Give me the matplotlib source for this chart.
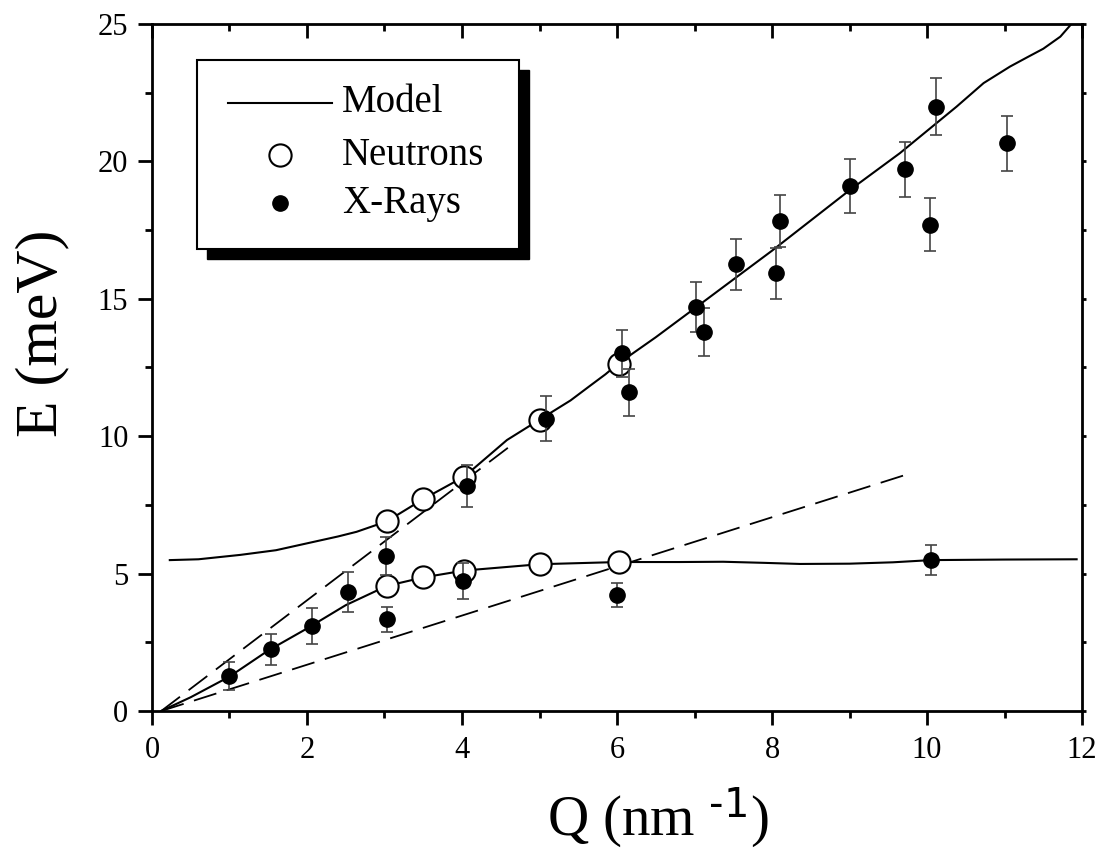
import matplotlib
matplotlib.use('Agg')
import matplotlib.pyplot as plt
from matplotlib.patches import Rectangle
from matplotlib.lines import Line2D

plt.rcParams['font.family'] = ['Liberation Serif', 'DejaVu Serif']
plt.rcParams['mathtext.default'] = 'regular'

# model curves (upper and lower branch)
model_hi_q = [0.23, 0.6, 1.14, 1.6, 2.0, 2.4, 2.64, 3.03, 3.5, 4.03, 4.58, 5.0, 5.4, 5.65,
              5.85, 6.02, 6.5, 7.02, 7.5, 8.0, 8.5, 9.0, 9.65, 10.38, 10.73, 11.07, 11.3,
              11.5, 11.72, 11.85]
model_hi_e = [5.49, 5.52, 5.68, 5.85, 6.10, 6.35, 6.52, 6.90, 7.71, 8.53, 9.86, 10.6, 11.3, 11.83,
              12.25, 12.65, 13.6, 14.69, 15.7, 16.75, 17.85, 18.95, 20.3, 21.99, 22.85, 23.45, 23.8,
              24.1, 24.54, 24.96]
model_lo_q = [0.12, 0.5, 1.0, 1.5, 2.0, 2.5, 3.03, 3.5, 4.03, 5.0, 6.02, 6.8, 7.37, 7.9, 8.36,
              9.0, 9.56, 10.05, 11.0, 11.93]
model_lo_e = [0.0, 0.5, 1.25, 2.2, 3.0, 3.85, 4.55, 4.86, 5.11, 5.34, 5.42, 5.42, 5.43, 5.39, 5.35,
              5.36, 5.41, 5.49, 5.51, 5.52]

# dashed lines
dash1_q = [0.12, 4.65]
dash1_e = [0.0, 9.7]
dash2_q = [0.12, 9.81]
dash2_e = [0.0, 8.67]

# neutrons
n_q = [3.03, 3.50, 4.03, 5.00, 6.02, 3.03, 3.50, 4.03, 5.00, 6.02]
n_e = [6.90, 7.71, 8.53, 10.6, 12.62, 4.55, 4.86, 5.11, 5.34, 5.42]

# x-rays
xr_q = [0.99, 1.54, 2.06, 2.53, 3.02, 3.03, 4.01, 4.06, 5.09, 6.00, 6.07, 6.15, 7.02, 7.12,
        7.54, 8.05, 8.10, 9.01, 9.72, 10.04, 10.05, 10.12, 11.03]
xr_e = [1.27, 2.24, 3.09, 4.32, 5.64, 3.34, 4.72, 8.19, 10.64, 4.22, 13.01, 11.59, 14.70, 13.80,
        16.25, 15.93, 17.83, 19.10, 19.72, 17.70, 5.49, 21.99, 20.66]
xr_err = [0.50, 0.56, 0.65, 0.73, 0.70, 0.46, 0.65, 0.76, 0.82, 0.42, 0.85, 0.84, 0.90, 0.88,
          0.92, 0.92, 0.96, 0.98, 1.00, 0.95, 0.55, 1.03, 1.01]

fig = plt.figure(figsize=(11.02, 8.48), dpi=100)
ax = fig.add_axes([0.1379, 0.1616, 0.844, 0.8101])

ax.plot(model_hi_q, model_hi_e, color='k', lw=1.5, zorder=2)
ax.plot(model_lo_q, model_lo_e, color='k', lw=1.5, zorder=2)
ax.plot(dash1_q, dash1_e, color='k', lw=1.3, dashes=(13, 6), zorder=2)
ax.plot(dash2_q, dash2_e, color='k', lw=1.3, dashes=(13, 6), zorder=2)

ax.plot(n_q, n_e, 'o', ms=16, mfc='white', mec='k', mew=1.5, ls='none', zorder=3)
ax.errorbar(xr_q, xr_e, yerr=xr_err, fmt='o', ms=11, color='k', ecolor='#444444',
            elinewidth=1.2, capsize=4, capthick=1.2, zorder=4)

ax.set_xlim(0, 12)
ax.set_ylim(0, 25)
ax.set_xticks([0, 2, 4, 6, 8, 10, 12])
ax.set_xticks([1, 3, 5, 7, 9, 11], minor=True)
ax.set_yticks([0, 5, 10, 15, 20, 25])
ax.set_yticks([2.5, 7.5, 12.5, 17.5, 22.5], minor=True)

for s in ax.spines.values():
    s.set_linewidth(2)
ax.tick_params(which='both', direction='out', width=2, labelsize=22)
ax.tick_params(axis='y', pad=7)
ax.tick_params(axis='x', pad=8)
ax.tick_params(which='major', length=10)
ax.tick_params(which='minor', length=5)

# mirrored ticks on top and right
top = ax.secondary_xaxis('top')
top.set_xticks([0, 2, 4, 6, 8, 10, 12])
top.set_xticks([1, 3, 5, 7, 9, 11], minor=True)
top.tick_params(which='both', direction='in', width=2, labeltop=False)
top.tick_params(which='major', length=10)
top.tick_params(which='minor', length=5)
right = ax.secondary_yaxis('right')
right.set_yticks([0, 5, 10, 15, 20, 25])
right.set_yticks([2.5, 7.5, 12.5, 17.5, 22.5], minor=True)
right.tick_params(which='both', direction='out', width=2, length=3, labelright=False)

ax.set_xlabel('Q (nm $^{\\text{-1}}$)', fontsize=41, va='center')
ax.set_ylabel('E (meV)', fontsize=43, va='center')
ax.xaxis.set_label_coords(0.544, -0.155)
ax.yaxis.set_label_coords(-0.118, 0.55)

# legend box with solid shadow
ax.add_patch(Rectangle((0.0588, 0.658), 0.3466, 0.2751, transform=ax.transAxes,
                       facecolor='k', edgecolor='k', zorder=5))
ax.add_patch(Rectangle((0.048, 0.6725), 0.3466, 0.2751, transform=ax.transAxes,
                       facecolor='white', edgecolor='k', lw=1.5, zorder=6))
ax.add_line(Line2D([0.0817, 0.1935], [0.885, 0.885], transform=ax.transAxes,
                   color='k', lw=1.5, zorder=7))
ax.add_line(Line2D([0.1376], [0.809], transform=ax.transAxes, marker='o', ms=16,
                   mfc='white', mec='k', mew=1.5, zorder=7))
ax.add_line(Line2D([0.1376], [0.739], transform=ax.transAxes, marker='o', ms=11,
                   color='k', zorder=7))
labels = ['Model', 'Neutrons', 'X-Rays']
for yy, lab in zip([0.885, 0.809, 0.739], labels):
    ax.text(0.204, yy, lab, transform=ax.transAxes, fontsize=28, va='center', ha='left', zorder=7)

fig.savefig('out.png', dpi=100)
